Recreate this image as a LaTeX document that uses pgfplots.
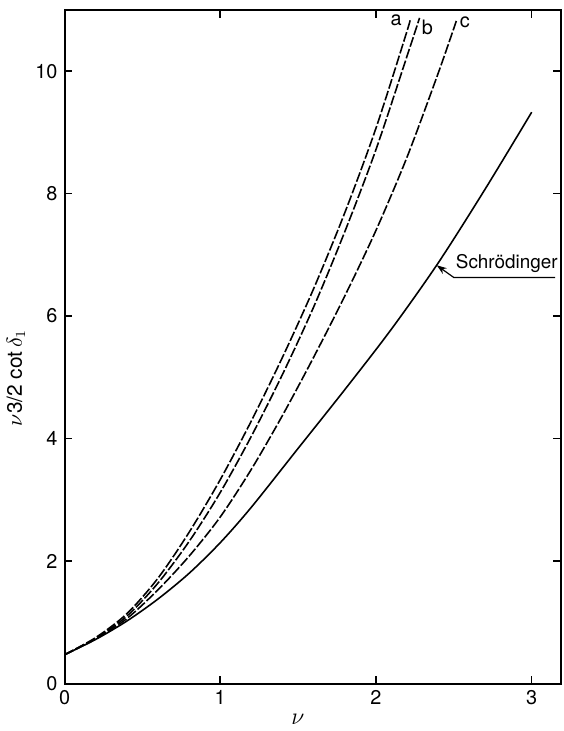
\documentclass[border=0pt]{standalone}
\usepackage{fontspec}
\setmainfont{TeX Gyre Heros}
\usepackage{pgfplots}
\pgfplotsset{compat=1.18}
\usetikzlibrary{arrows.meta}

\begin{document}
\begin{tikzpicture}
\begin{axis}[
  scale only axis,
  width=250pt, height=339pt,
  xmin=0, xmax=3.19,
  ymin=0, ymax=11,
  xtick={0,1,2,3},
  ytick={0,2,4,6,8,10},
  tick align=inside,
  major tick length=4pt,
  tick style={line width=0.8pt, black},
  axis line style={line width=1pt},
  /pgf/number format/assume math mode=true,
  tick label style={font=\fontsize{10}{11}\selectfont},
  xlabel={$\nu$},
  xlabel style={at={(axis description cs:0.47,-0.035)}, anchor=north, font=\fontsize{12}{13}\selectfont},
  ylabel={$\nu$3/2 cot\,$\delta_1$},
  ylabel style={at={(axis description cs:-0.098,0.454)}, anchor=center, font=\fontsize{10.5}{12}\selectfont},
  clip=true,
]
% Schroedinger result
\addplot[black, line width=0.8pt, smooth] coordinates {
  (0,0.47) (0.2,0.72) (0.4,1.02) (0.6,1.38) (0.8,1.8) (1.0,2.3) (1.2,2.88)
  (1.5,3.84) (1.8,4.8) (2.1,5.79) (2.4,6.87) (2.7,8.07) (3.0,9.33)};
% curve a
\addplot[black, line width=0.8pt, smooth, dash pattern=on 5pt off 1.2pt] coordinates {
  (0,0.47) (0.2,0.75) (0.4,1.14) (0.6,1.72) (0.8,2.47) (1.0,3.33) (1.2,4.29)
  (1.4,5.33) (1.6,6.45) (1.8,7.69) (2.0,9.07) (2.2,10.66) (2.22,10.86)};
% curve b
\addplot[black, line width=0.8pt, smooth, dash pattern=on 5pt off 1.2pt] coordinates {
  (0,0.47) (0.2,0.74) (0.4,1.1) (0.6,1.64) (0.8,2.32) (1.0,3.12) (1.2,4.04)
  (1.4,5.05) (1.6,6.15) (1.8,7.38) (2.0,8.72) (2.2,10.25) (2.28,10.87)};
% curve c
\addplot[black, line width=0.8pt, smooth, dash pattern=on 5pt off 1.2pt] coordinates {
  (0,0.47) (0.2,0.73) (0.4,1.06) (0.6,1.53) (0.8,2.08) (1.0,2.72) (1.2,3.5)
  (1.4,4.38) (1.6,5.33) (1.8,6.33) (2.0,7.4) (2.2,8.6) (2.4,9.97) (2.52,10.85)};

\node[font=\fontsize{10}{11}\selectfont] at (axis cs:2.13,10.83) {a};
\node[font=\fontsize{10}{11}\selectfont] at (axis cs:2.33,10.71) {b};
\node[font=\fontsize{10}{11}\selectfont] at (axis cs:2.57,10.79) {c};

\node[font=\fontsize{9.5}{10}\selectfont] at (axis cs:2.84,6.86) {Schrödinger};
\draw[line width=0.6pt, -{Stealth[length=5pt,width=3.5pt]}]
  (axis cs:3.15,6.63) -- (axis cs:2.50,6.63) -- (axis cs:2.39,6.83);
\end{axis}
\path ([shift={(-31pt,-21.5pt)}]current axis.south west) rectangle ([shift={(251pt,344pt)}]current axis.south west);
\end{tikzpicture}
\end{document}
